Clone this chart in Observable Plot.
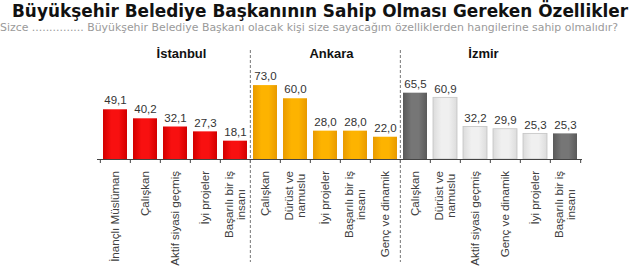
<!DOCTYPE html>
<html><head><meta charset="utf-8">
<script src="https://cdn.jsdelivr.net/npm/d3@7"></script>
<script src="https://cdn.jsdelivr.net/npm/@observablehq/plot@0.6"></script>
<style>
body{margin:0;background:#fff;width:640px;height:267px;overflow:hidden}
#title{height:21px;position:relative;overflow:visible}
#title span{position:absolute;left:320px;top:0;font:bold 18px "DejaVu Sans";color:#111;line-height:22px;white-space:nowrap;transform-origin:0 0}
#sub{font:10.9px "DejaVu Sans";color:#9a9a9a;white-space:nowrap;height:14px;line-height:13px}
</style></head><body>
<div id="title"><span>Büyükşehir Belediye Başkanının Sahip Olması Gereken Özellikler</span></div>
<div id="sub">Sizce ............... Büyükşehir Belediye Başkanı olacak kişi size sayacağım özelliklerden hangilerine sahip olmalıdır?</div>
<div id="chart"></div>
<script>
const cities = ["İstanbul", "Ankara", "İzmir"];
const istanbulLabels = ["İnançlı Müslüman", "Çalışkan", "Aktif siyasi geçmiş", "İyi projeler", "Başarılı bir iş\ninsanı"];
const istanbulValues = [49.1, 40.2, 32.1, 27.3, 18.1];
const ankaraLabels = ["Çalışkan", "Dürüst ve\nnamuslu", "İyi projeler", "Başarılı bir iş\ninsanı", "Genç ve dinamik"];
const ankaraValues = [73.0, 60.0, 28.0, 28.0, 22.0];
const izmirLabels = ["Çalışkan", "Dürüst ve\nnamuslu", "Aktif siyasi geçmiş", "Genç ve dinamik", "İyi projeler", "Başarılı bir iş\ninsanı"];
const izmirValues = [65.5, 60.9, 32.2, 29.9, 25.3, 25.3];

// styles
const izmirDark = [true, false, false, false, false, true];
const cityPaint = {"İstanbul": "url(#gRed)", "Ankara": "url(#gOrange)"};

// fit the title to the reference width
const tspan = document.querySelector("#title span");
const tw = tspan.getBoundingClientRect().width;
const sx = Math.min(1, 616 / tw);
tspan.style.transform = `scaleX(${sx}) translateX(-50%)`;

const W = 640, H = 232, ML = 97, MR = 58, MT = 43, MB = 108;
const YMAX = 80;
const pxPerUnit = (H - MT - MB) / YMAX;
const labelSize = 11.6;
const ctx = document.createElement("canvas").getContext("2d");
ctx.font = `${labelSize}px 'Liberation Sans'`;
const labelLen = s => Math.max(...s.split("\n").map(l => ctx.measureText(l).width));

const groups = [[istanbulLabels, istanbulValues], [ankaraLabels, ankaraValues], [izmirLabels, izmirValues]];
const data = [];
groups.forEach(([labels, values], gi) => {
  labels.forEach((label, i) => {
    const city = cities[gi];
    let paint = cityPaint[city];
    if (city === "İzmir") paint = izmirDark[i] ? "url(#gDark)" : "url(#gLight)";
    data.push({key: city + "|" + i, city, label, value: values[i], idx: i, paint,
      stroke: paint === "url(#gLight)" ? "#c4c4c4" : "none",
      labelY: -(11.5 + labelLen(label) / 2) / pxPerUnit});
  });
});
const keys = data.map(d => d.key);
const step = (W - ML - MR) / keys.length;
const firstOfGroup = data.filter(d => d.idx === 0 && d.city !== cities[0]);
const midKey = c => { const r = data.filter(d => d.city === c); return r[Math.floor((r.length - 1) / 2)].key; };
const fmt = v => v.toFixed(1).replace(".", ",");

function defs() {
  const ns = "http://www.w3.org/2000/svg";
  const g = document.createElementNS(ns, "defs");
  const grad = (id, edge, mid) => `<linearGradient id="${id}" x1="0" x2="1" y1="0" y2="0">
    <stop offset="0" stop-color="${edge}"/><stop offset="0.35" stop-color="${mid}"/>
    <stop offset="0.65" stop-color="${mid}"/><stop offset="1" stop-color="${edge}"/></linearGradient>`;
  g.innerHTML = grad("gRed", "#d20000", "#f81010") + grad("gOrange", "#e89a00", "#fdb300") +
    grad("gDark", "#5a5a5a", "#767676") + grad("gLight", "#dcdcdc", "#f0f0f0");
  return g;
}
const cityText = (c, dx) => Plot.text([c], {x: () => midKey(c), text: d => d, frameAnchor: "top", dy: -30, dx,
  fontWeight: "bold", fontSize: 13, fill: "#111"});

const chart = Plot.plot({
  width: W, height: H, marginLeft: ML, marginRight: MR, marginTop: MT, marginBottom: MB,
  x: {domain: keys, paddingInner: 0.2, paddingOuter: 0.1, axis: null},
  y: {domain: [0, YMAX], axis: null},
  color: {type: "identity"},
  style: {fontFamily: "'Liberation Sans', Arial, sans-serif", fontSize: "11.5px", color: "#333", background: "#fff", overflow: "visible"},
  marks: [
    defs,
    Plot.barY(data, {x: "key", y: "value", fill: "paint", stroke: "stroke", strokeWidth: 0.8}),
    Plot.ruleY([0], {stroke: "#444"}),
    Plot.ruleX(data, {x: "key", y1: 0, y2: 0, insetBottom: -4, dx: -step / 2, stroke: "#444"}),
    Plot.ruleX(data.slice(-1), {x: "key", y1: 0, y2: 0, insetBottom: -4, dx: step / 2, stroke: "#444"}),
    Plot.ruleX(firstOfGroup, {x: "key", dx: -step / 2, insetTop: -28, insetBottom: -103, stroke: "#777", strokeDasharray: "3,2"}),
    Plot.text(data, {x: "key", y: "value", text: d => fmt(d.value), dy: -9, fill: "#333", fontSize: 11.5}),
    Plot.text(data, {x: "key", y: "labelY", text: "label", rotate: -90, textAnchor: "middle", lineAnchor: "middle", fill: "#404040", fontSize: labelSize}),
    cityText(cities[0], 6), cityText(cities[1], 6), cityText(cities[2], 8)
  ]
});
document.getElementById("chart").appendChild(chart);
</script>
</body></html>
